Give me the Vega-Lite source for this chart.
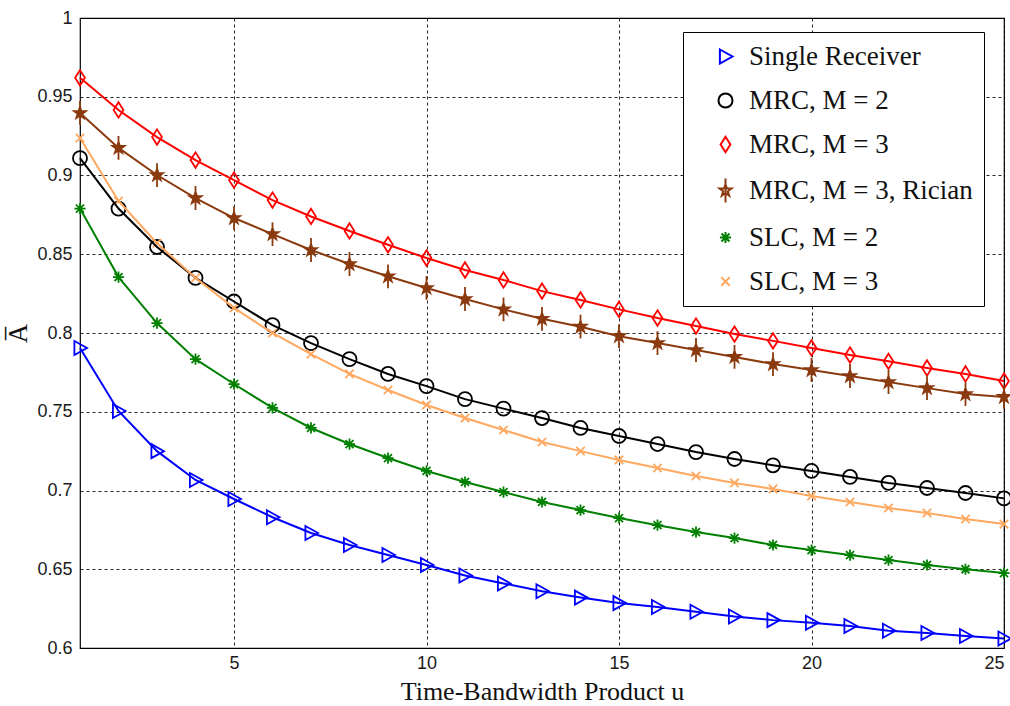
{
  "$schema": "https://vega.github.io/schema/vega-lite/v6.json",
  "width": 924,
  "height": 630,
  "autosize": {"type": "none"},
  "padding": {"left": 80, "top": 18, "right": 6, "bottom": 58},
  "background": "white",
  "config": {
    "view": {"stroke": "#000000", "strokeWidth": 1.2},
    "axis": {
      "grid": true,
      "gridColor": "#000000",
      "gridDash": [3, 3],
      "gridOpacity": 0.85,
      "gridWidth": 1,
      "domain": false,
      "ticks": false,
      "labelFont": "Liberation Sans",
      "labelFontSize": 18,
      "labelColor": "#1a1a1a",
      "titleFont": "Liberation Serif",
      "titleFontWeight": "normal",
      "titleColor": "#111111"
    },
    "legend": {
      "title": null,
      "orient": "none",
      "legendX": 603,
      "legendY": 14,
      "padding": 11,
      "fillColor": "white",
      "strokeColor": "#000000",
      "symbolSize": 196,
      "symbolStrokeWidth": 2,
      "symbolOffset": 18,
      "rowPadding": 16,
      "labelOffset": 10,
      "labelFont": "Liberation Serif",
      "labelFontSize": 27,
      "labelColor": "#111111",
      "labelLimit": 400
    }
  },
  "data": {
    "values": [
      {"u":1,"A":0.7905,"s":"Single Receiver"},{"u":2,"A":0.7505,"s":"Single Receiver"},{"u":3,"A":0.725,"s":"Single Receiver"},{"u":4,"A":0.7067,"s":"Single Receiver"},{"u":5,"A":0.6946,"s":"Single Receiver"},{"u":6,"A":0.683,"s":"Single Receiver"},{"u":7,"A":0.673,"s":"Single Receiver"},{"u":8,"A":0.6654,"s":"Single Receiver"},{"u":9,"A":0.659,"s":"Single Receiver"},{"u":10,"A":0.6527,"s":"Single Receiver"},{"u":11,"A":0.646,"s":"Single Receiver"},{"u":12,"A":0.641,"s":"Single Receiver"},{"u":13,"A":0.636,"s":"Single Receiver"},{"u":14,"A":0.632,"s":"Single Receiver"},{"u":15,"A":0.6285,"s":"Single Receiver"},{"u":16,"A":0.626,"s":"Single Receiver"},{"u":17,"A":0.623,"s":"Single Receiver"},{"u":18,"A":0.62,"s":"Single Receiver"},{"u":19,"A":0.6177,"s":"Single Receiver"},{"u":20,"A":0.616,"s":"Single Receiver"},{"u":21,"A":0.614,"s":"Single Receiver"},{"u":22,"A":0.611,"s":"Single Receiver"},{"u":23,"A":0.6095,"s":"Single Receiver"},{"u":24,"A":0.6076,"s":"Single Receiver"},{"u":25,"A":0.606,"s":"Single Receiver"},
      {"u":1,"A":0.911,"s":"MRC, M = 2"},{"u":2,"A":0.879,"s":"MRC, M = 2"},{"u":3,"A":0.8546,"s":"MRC, M = 2"},{"u":4,"A":0.835,"s":"MRC, M = 2"},{"u":5,"A":0.82,"s":"MRC, M = 2"},{"u":6,"A":0.805,"s":"MRC, M = 2"},{"u":7,"A":0.7936,"s":"MRC, M = 2"},{"u":8,"A":0.7834,"s":"MRC, M = 2"},{"u":9,"A":0.774,"s":"MRC, M = 2"},{"u":10,"A":0.7663,"s":"MRC, M = 2"},{"u":11,"A":0.758,"s":"MRC, M = 2"},{"u":12,"A":0.752,"s":"MRC, M = 2"},{"u":13,"A":0.746,"s":"MRC, M = 2"},{"u":14,"A":0.7397,"s":"MRC, M = 2"},{"u":15,"A":0.7346,"s":"MRC, M = 2"},{"u":16,"A":0.7295,"s":"MRC, M = 2"},{"u":17,"A":0.7244,"s":"MRC, M = 2"},{"u":18,"A":0.72,"s":"MRC, M = 2"},{"u":19,"A":0.716,"s":"MRC, M = 2"},{"u":20,"A":0.7124,"s":"MRC, M = 2"},{"u":21,"A":0.7086,"s":"MRC, M = 2"},{"u":22,"A":0.7048,"s":"MRC, M = 2"},{"u":23,"A":0.7016,"s":"MRC, M = 2"},{"u":24,"A":0.6984,"s":"MRC, M = 2"},{"u":25,"A":0.695,"s":"MRC, M = 2"},
      {"u":1,"A":0.962,"s":"MRC, M = 3"},{"u":2,"A":0.9416,"s":"MRC, M = 3"},{"u":3,"A":0.9244,"s":"MRC, M = 3"},{"u":4,"A":0.9098,"s":"MRC, M = 3"},{"u":5,"A":0.897,"s":"MRC, M = 3"},{"u":6,"A":0.8844,"s":"MRC, M = 3"},{"u":7,"A":0.874,"s":"MRC, M = 3"},{"u":8,"A":0.8648,"s":"MRC, M = 3"},{"u":9,"A":0.856,"s":"MRC, M = 3"},{"u":10,"A":0.8476,"s":"MRC, M = 3"},{"u":11,"A":0.84,"s":"MRC, M = 3"},{"u":12,"A":0.8337,"s":"MRC, M = 3"},{"u":13,"A":0.8266,"s":"MRC, M = 3"},{"u":14,"A":0.821,"s":"MRC, M = 3"},{"u":15,"A":0.815,"s":"MRC, M = 3"},{"u":16,"A":0.8095,"s":"MRC, M = 3"},{"u":17,"A":0.8044,"s":"MRC, M = 3"},{"u":18,"A":0.7993,"s":"MRC, M = 3"},{"u":19,"A":0.795,"s":"MRC, M = 3"},{"u":20,"A":0.7905,"s":"MRC, M = 3"},{"u":21,"A":0.786,"s":"MRC, M = 3"},{"u":22,"A":0.782,"s":"MRC, M = 3"},{"u":23,"A":0.7778,"s":"MRC, M = 3"},{"u":24,"A":0.774,"s":"MRC, M = 3"},{"u":25,"A":0.7695,"s":"MRC, M = 3"},
      {"u":1,"A":0.9397,"s":"MRC, M = 3, Rician"},{"u":2,"A":0.9175,"s":"MRC, M = 3, Rician"},{"u":3,"A":0.9003,"s":"MRC, M = 3, Rician"},{"u":4,"A":0.8857,"s":"MRC, M = 3, Rician"},{"u":5,"A":0.873,"s":"MRC, M = 3, Rician"},{"u":6,"A":0.8628,"s":"MRC, M = 3, Rician"},{"u":7,"A":0.8527,"s":"MRC, M = 3, Rician"},{"u":8,"A":0.8438,"s":"MRC, M = 3, Rician"},{"u":9,"A":0.836,"s":"MRC, M = 3, Rician"},{"u":10,"A":0.8286,"s":"MRC, M = 3, Rician"},{"u":11,"A":0.8216,"s":"MRC, M = 3, Rician"},{"u":12,"A":0.815,"s":"MRC, M = 3, Rician"},{"u":13,"A":0.809,"s":"MRC, M = 3, Rician"},{"u":14,"A":0.804,"s":"MRC, M = 3, Rician"},{"u":15,"A":0.798,"s":"MRC, M = 3, Rician"},{"u":16,"A":0.7936,"s":"MRC, M = 3, Rician"},{"u":17,"A":0.7892,"s":"MRC, M = 3, Rician"},{"u":18,"A":0.7848,"s":"MRC, M = 3, Rician"},{"u":19,"A":0.7803,"s":"MRC, M = 3, Rician"},{"u":20,"A":0.7765,"s":"MRC, M = 3, Rician"},{"u":21,"A":0.7727,"s":"MRC, M = 3, Rician"},{"u":22,"A":0.7689,"s":"MRC, M = 3, Rician"},{"u":23,"A":0.765,"s":"MRC, M = 3, Rician"},{"u":24,"A":0.7612,"s":"MRC, M = 3, Rician"},{"u":25,"A":0.7594,"s":"MRC, M = 3, Rician"},
      {"u":1,"A":0.879,"s":"SLC, M = 2"},{"u":2,"A":0.8355,"s":"SLC, M = 2"},{"u":3,"A":0.8063,"s":"SLC, M = 2"},{"u":4,"A":0.7834,"s":"SLC, M = 2"},{"u":5,"A":0.7676,"s":"SLC, M = 2"},{"u":6,"A":0.7524,"s":"SLC, M = 2"},{"u":7,"A":0.7397,"s":"SLC, M = 2"},{"u":8,"A":0.7295,"s":"SLC, M = 2"},{"u":9,"A":0.7206,"s":"SLC, M = 2"},{"u":10,"A":0.7124,"s":"SLC, M = 2"},{"u":11,"A":0.7054,"s":"SLC, M = 2"},{"u":12,"A":0.699,"s":"SLC, M = 2"},{"u":13,"A":0.6927,"s":"SLC, M = 2"},{"u":14,"A":0.6876,"s":"SLC, M = 2"},{"u":15,"A":0.6825,"s":"SLC, M = 2"},{"u":16,"A":0.678,"s":"SLC, M = 2"},{"u":17,"A":0.6736,"s":"SLC, M = 2"},{"u":18,"A":0.6698,"s":"SLC, M = 2"},{"u":19,"A":0.6654,"s":"SLC, M = 2"},{"u":20,"A":0.6622,"s":"SLC, M = 2"},{"u":21,"A":0.659,"s":"SLC, M = 2"},{"u":22,"A":0.6558,"s":"SLC, M = 2"},{"u":23,"A":0.6527,"s":"SLC, M = 2"},{"u":24,"A":0.65,"s":"SLC, M = 2"},{"u":25,"A":0.6476,"s":"SLC, M = 2"},
      {"u":1,"A":0.9238,"s":"SLC, M = 3"},{"u":2,"A":0.8838,"s":"SLC, M = 3"},{"u":3,"A":0.857,"s":"SLC, M = 3"},{"u":4,"A":0.835,"s":"SLC, M = 3"},{"u":5,"A":0.8159,"s":"SLC, M = 3"},{"u":6,"A":0.8,"s":"SLC, M = 3"},{"u":7,"A":0.7866,"s":"SLC, M = 3"},{"u":8,"A":0.774,"s":"SLC, M = 3"},{"u":9,"A":0.7638,"s":"SLC, M = 3"},{"u":10,"A":0.7543,"s":"SLC, M = 3"},{"u":11,"A":0.746,"s":"SLC, M = 3"},{"u":12,"A":0.7384,"s":"SLC, M = 3"},{"u":13,"A":0.7308,"s":"SLC, M = 3"},{"u":14,"A":0.725,"s":"SLC, M = 3"},{"u":15,"A":0.7194,"s":"SLC, M = 3"},{"u":16,"A":0.7143,"s":"SLC, M = 3"},{"u":17,"A":0.7092,"s":"SLC, M = 3"},{"u":18,"A":0.7048,"s":"SLC, M = 3"},{"u":19,"A":0.701,"s":"SLC, M = 3"},{"u":20,"A":0.6965,"s":"SLC, M = 3"},{"u":21,"A":0.6927,"s":"SLC, M = 3"},{"u":22,"A":0.6889,"s":"SLC, M = 3"},{"u":23,"A":0.6857,"s":"SLC, M = 3"},{"u":24,"A":0.6819,"s":"SLC, M = 3"},{"u":25,"A":0.6787,"s":"SLC, M = 3"}
    ]
  },
  "encoding": {
    "x": {"field": "u", "type": "quantitative", "scale": {"domain": [1, 25], "nice": false, "zero": false},
      "axis": {"values": [5, 10, 15, 20, 25], "format": "d", "title": "Time-Bandwidth Product u", "titleFontSize": 26, "labelPadding": 6, "titlePadding": 6}},
    "y": {"field": "A", "type": "quantitative", "scale": {"domain": [0.6, 1], "nice": false, "zero": false},
      "axis": {"values": [0.6, 0.65, 0.7, 0.75, 0.8, 0.85, 0.9, 0.95, 1], "format": "~g", "title": "A\u0305", "titleFontSize": 27, "labelPadding": 8, "titlePadding": 4}}
  },
  "layer": [
    {
      "mark": {"type": "point", "filled": false, "strokeWidth": 1.8, "size": 196, "opacity": 1},
      "encoding": {
        "color": {"field": "s", "type": "nominal",
          "scale": {"domain": ["Single Receiver", "MRC, M = 2", "MRC, M = 3", "MRC, M = 3, Rician", "SLC, M = 2", "SLC, M = 3"],
                    "range": ["#0000FF", "#000000", "#FF0000", "#8B3A0F", "#008000", "#FFA860"]}},
        "shape": {"field": "s", "type": "nominal",
          "scale": {"domain": ["Single Receiver", "MRC, M = 2", "MRC, M = 3", "MRC, M = 3, Rician", "SLC, M = 2", "SLC, M = 3"],
                    "range": ["M-0.8,-1L1,0L-0.8,1Z", "M1,0A1,1 0 1,1 -1,0A1,1 0 1,1 1,0Z", "M0,-1.1L0.7,0L0,1.1L-0.7,0Z", "M0,-0.9L0.206,-0.283L0.856,-0.278L0.333,0.108L0.529,0.728L0,0.35L-0.529,0.728L-0.333,0.108L-0.856,-0.278L-0.206,-0.283ZM0,-1.7L0,1.7", "M0,-0.8L0,0.8M-0.8,0L0.8,0M-0.57,-0.57L0.57,0.57M-0.57,0.57L0.57,-0.57", "M-0.6,-0.6L0.6,0.6M-0.6,0.6L0.6,-0.6"]}}
      }
    },
    {
      "mark": {"type": "line", "strokeWidth": 2},
      "encoding": {
        "color": {"field": "s", "type": "nominal"}
      }
    },
    {
      "transform": [{"filter": "datum.s === 'MRC, M = 3, Rician'"}],
      "mark": {"type": "point", "filled": true, "size": 196, "opacity": 1, "color": "#8B3A0F",
               "shape": "M0,-0.9L0.206,-0.283L0.856,-0.278L0.333,0.108L0.529,0.728L0,0.35L-0.529,0.728L-0.333,0.108L-0.856,-0.278L-0.206,-0.283Z"},
      "encoding": {}
    }
  ]
}
